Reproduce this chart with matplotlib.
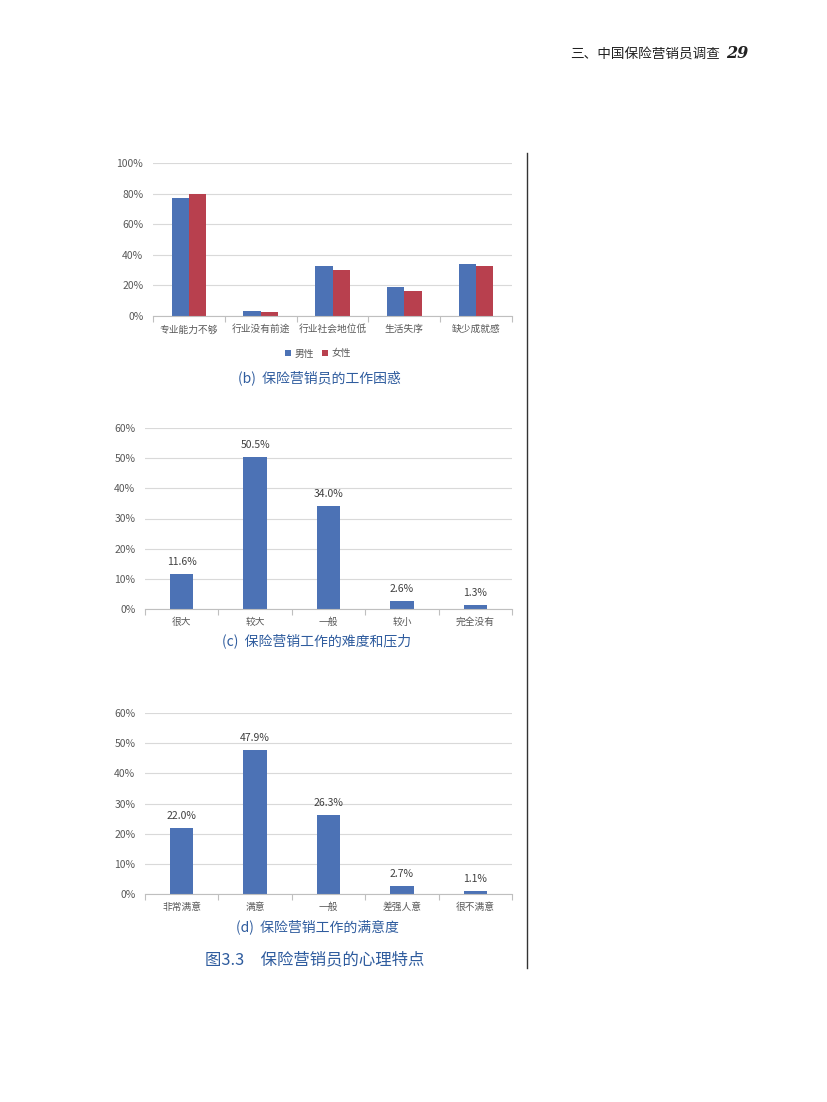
import numpy as np
import matplotlib.pyplot as plt
from matplotlib.lines import Line2D
from matplotlib.ticker import PercentFormatter

plt.rcParams['font.family'] = ['Noto Sans CJK SC', 'DejaVu Sans']

# (b) work troubles, by gender
trouble_cats = ['专业能力不够', '行业没有前途', '行业社会地位低', '生活失序', '缺少成就感']
trouble_male = [77.4, 3.3, 32.4, 18.8, 33.9]
trouble_female = [80.0, 2.4, 30.0, 16.4, 32.6]

# (c) difficulty and pressure
pressure_cats = ['很大', '较大', '一般', '较小', '完全没有']
pressure_vals = [11.6, 50.5, 34.0, 2.6, 1.3]

# (d) satisfaction
satis_cats = ['非常满意', '满意', '一般', '差强人意', '很不满意']
satis_vals = [22.0, 47.9, 26.3, 2.7, 1.1]

BLUE = '#4C72B5'
RED = '#B8404E'
CAPTION = '#2F5C9E'
TICK = '#595959'
GRID = '#D9D9D9'

W, H = 827, 1102
fig = plt.figure(figsize=(W / 100, H / 100), dpi=100)


def px_axes(x0, y0, x1, y1):
    # axes from pixel box (top-left origin)
    return fig.add_axes([x0 / W, 1 - y1 / H, (x1 - x0) / W, (y1 - y0) / H])


def style_axes(ax, cats, ymax, step, cat_pad):
    n = len(cats)
    ax.set_xlim(-0.5, n - 0.5)
    ax.set_ylim(0, ymax)
    ax.set_yticks(np.arange(0, ymax + 0.1, step))
    ax.yaxis.set_major_formatter(PercentFormatter(decimals=0))
    ax.grid(axis='y', color=GRID, linewidth=0.8)
    ax.set_axisbelow(True)
    for s in ['left', 'right', 'top']:
        ax.spines[s].set_visible(False)
    ax.spines['bottom'].set_color('#BFBFBF')
    ax.spines['bottom'].set_linewidth(0.8)
    ax.set_xticks(range(n))
    ax.set_xticklabels(cats)
    ax.set_xticks(np.arange(-0.5, n, 1.0), minor=True)
    ax.tick_params(axis='x', which='major', length=0, pad=cat_pad, labelsize=7, labelcolor=TICK)
    ax.tick_params(axis='x', which='minor', length=4, color='#BFBFBF', width=0.8)
    ax.tick_params(axis='y', length=0, pad=7, labelsize=7.5, labelcolor=TICK)


# header
fig.text(720 / W, 1 - 55 / H, '三、中国保险营销员调查', ha='right', va='center',
         fontsize=9.8, color='#222222')
fig.text(748 / W, 1 - 54 / H, '29', ha='right', va='center', fontsize=11.5,
         family='DejaVu Serif', style='italic', weight='bold', color='#222222')

# vertical rule
fig.add_artist(Line2D([527 / W, 527 / W], [1 - 153 / H, 1 - 968 / H],
                      transform=fig.transFigure, color='#333333', linewidth=1.0))

# chart (b)
ax1 = px_axes(153, 163, 512, 316)
x = np.arange(len(trouble_cats))
bw = 0.24
ax1.bar(x - bw / 2, trouble_male, bw, color=BLUE, label='男性')
ax1.bar(x + bw / 2, trouble_female, bw, color=RED, label='女性')
style_axes(ax1, trouble_cats, 100, 20, 6)
ax1.legend(loc='center', bbox_to_anchor=(0.46, -0.245), ncol=2, frameon=False,
           fontsize=7, handlelength=0.6, handleheight=0.6, handletextpad=0.4,
           columnspacing=0.8, labelcolor=TICK)
fig.text(319 / W, 1 - 378 / H, '(b)  保险营销员的工作困惑', ha='center', va='center',
         fontsize=10, color=CAPTION)


def single_chart(box, cats, vals, caption, cap_y):
    ax = px_axes(*box)
    xs = np.arange(len(cats))
    bars = ax.bar(xs, vals, 0.32, color=BLUE)
    for b, v in zip(bars, vals):
        ax.annotate('%.1f%%' % v, (b.get_x() + b.get_width() / 2, v),
                    xytext=(0, 5), textcoords='offset points', ha='center',
                    va='bottom', fontsize=7.5, color='#404040')
    style_axes(ax, cats, 60, 10, 6)
    fig.text(317 / W, 1 - cap_y / H, caption, ha='center', va='center',
             fontsize=10, color=CAPTION)
    return ax


single_chart((145, 428, 512, 609), pressure_cats, pressure_vals,
             '(c)  保险营销工作的难度和压力', 641)
single_chart((145, 713, 512, 894), satis_cats, satis_vals,
             '(d)  保险营销工作的满意度', 927)

fig.text(315 / W, 1 - 960 / H, '图3.3　保险营销员的心理特点', ha='center', va='center',
         fontsize=11.8, color=CAPTION)

fig.savefig('out.png', dpi=100)
